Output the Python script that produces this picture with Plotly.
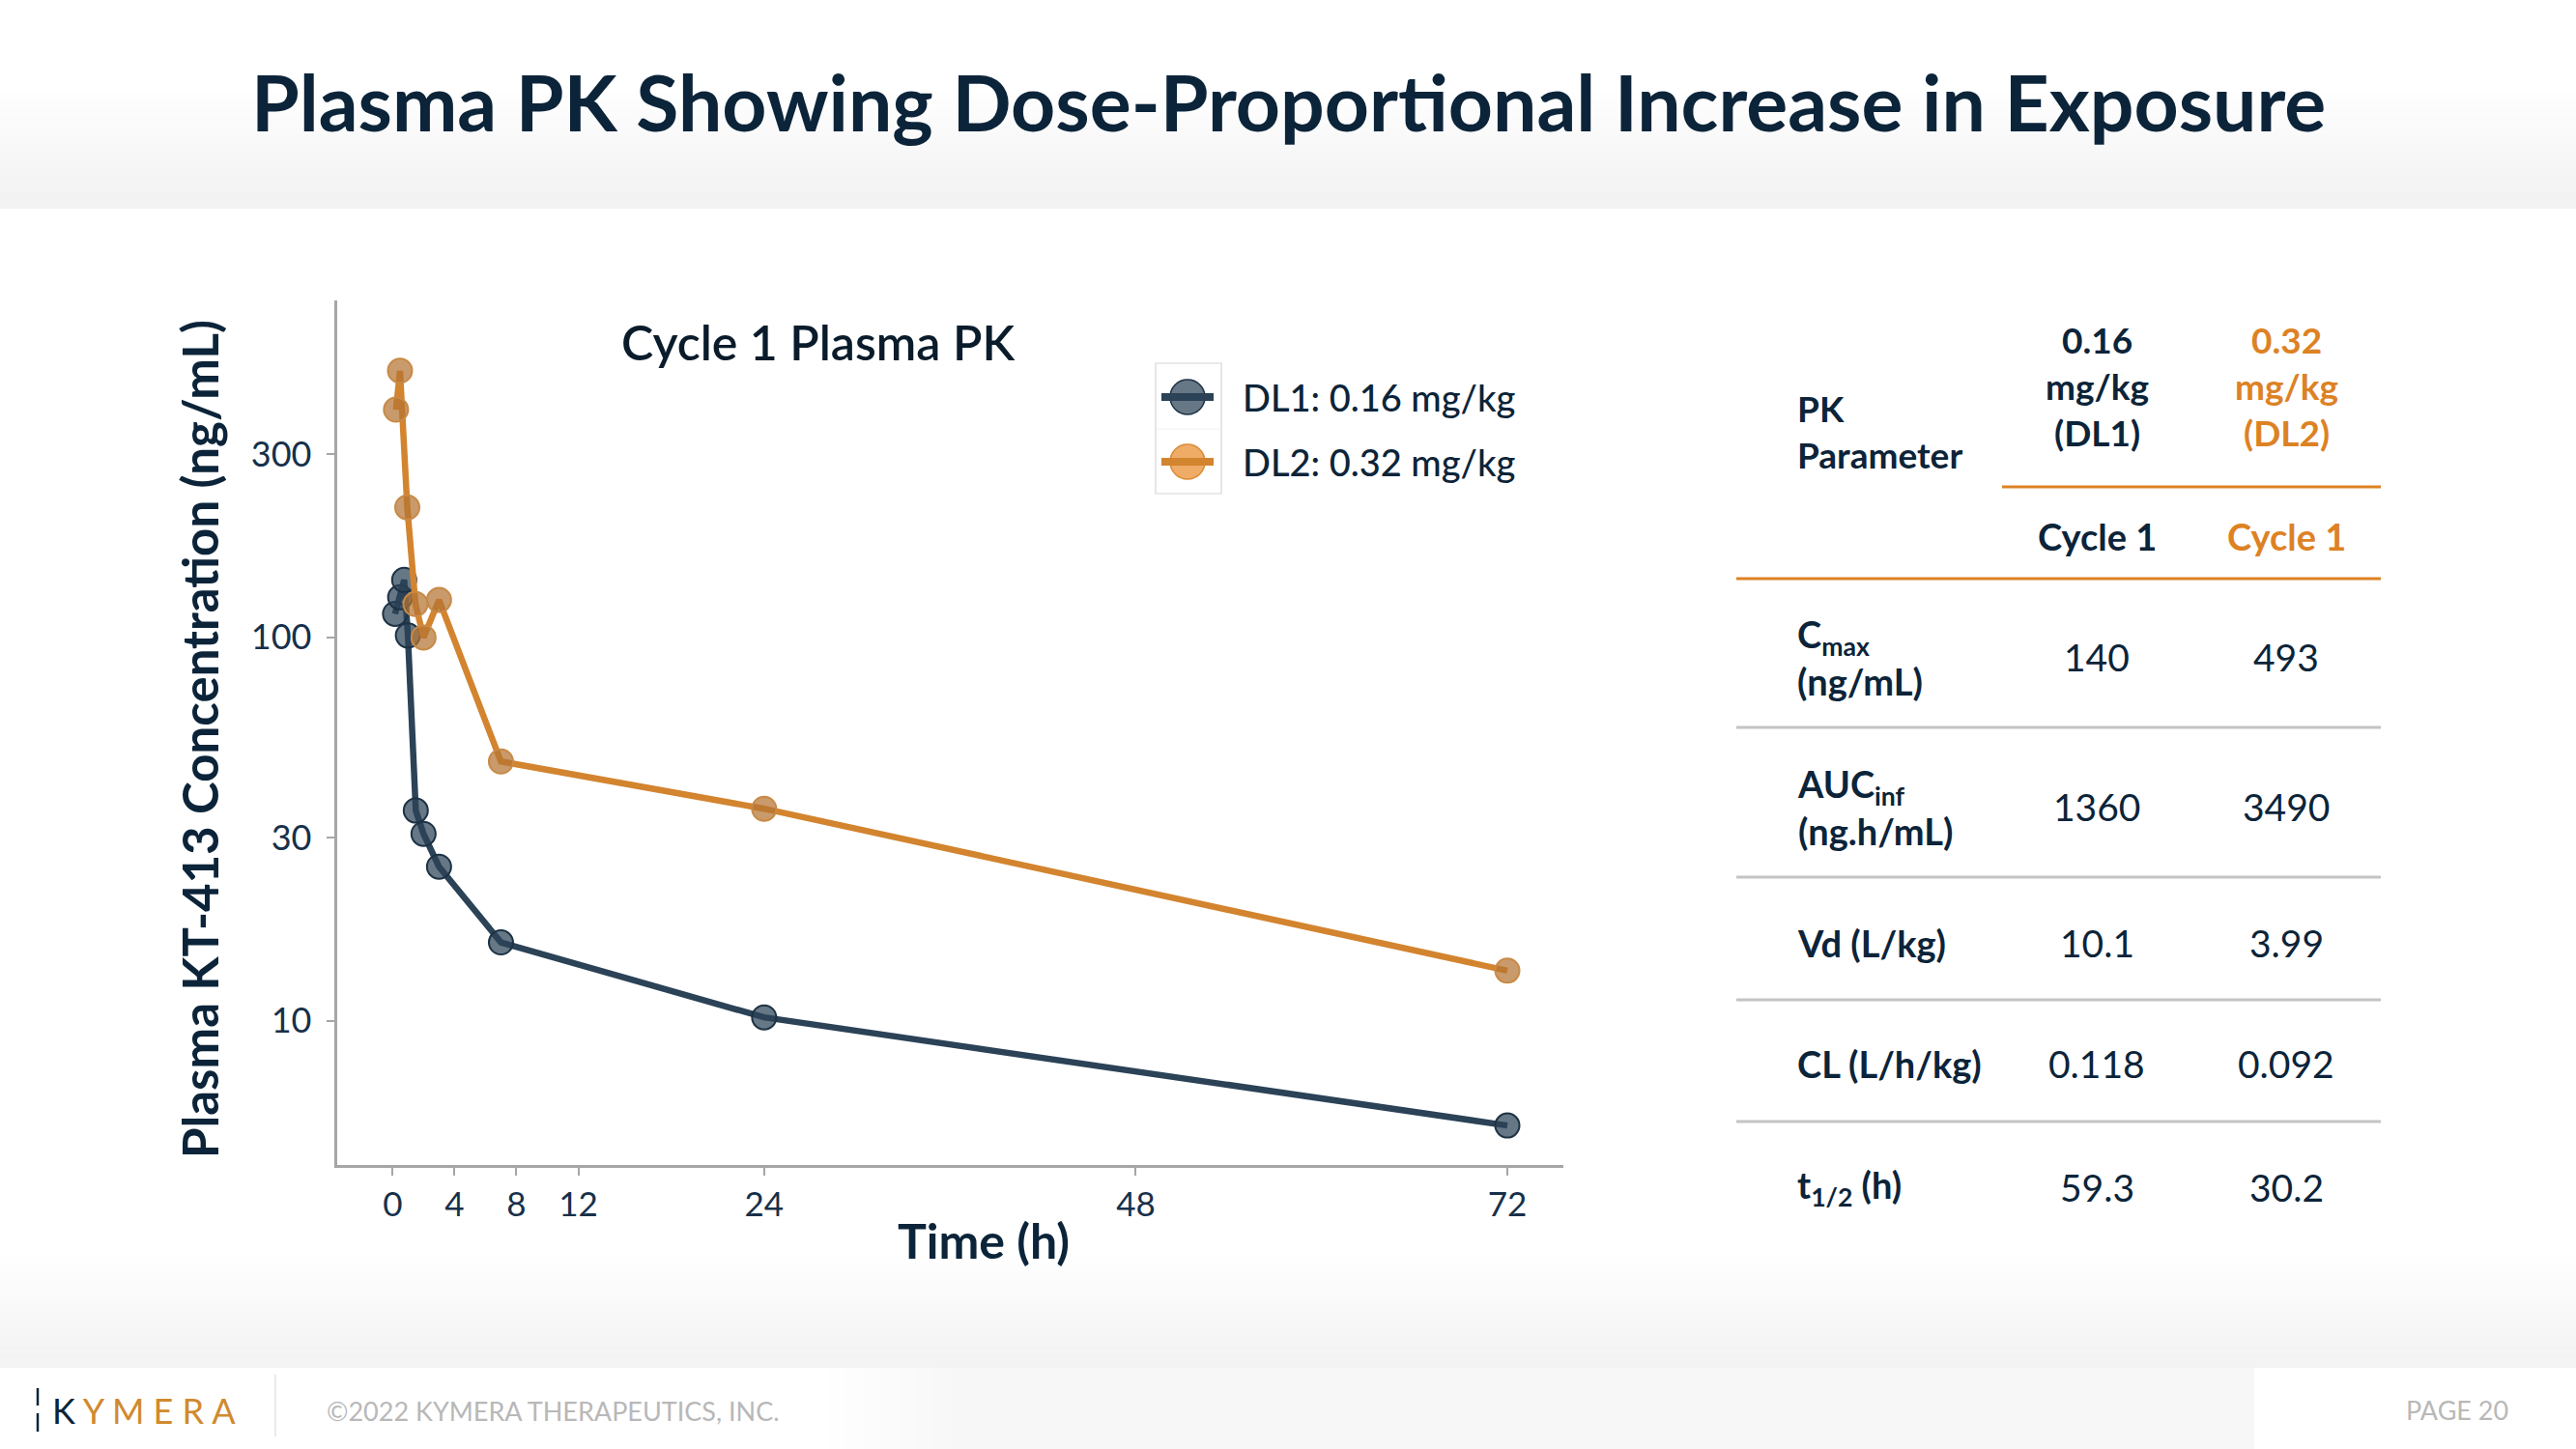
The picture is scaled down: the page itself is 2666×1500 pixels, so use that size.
import plotly.graph_objects as go

# ---------------- data ----------------
time_dl1 = [0.16, 0.49, 0.75, 0.99, 1.5, 2.0, 3.0, 7.0, 24, 72]
conc_dl1 = [115, 127, 141, 101, 35.3, 30.7, 25.2, 16.0, 10.2, 5.33]
time_dl2 = [0.22, 0.48, 0.95, 1.48, 2.0, 3.0, 7.0, 24, 72]
conc_dl2 = [392, 495, 218, 122, 99.8, 125, 47.4, 35.7, 13.5]
series_names = ["DL1: 0.16 mg/kg", "DL2: 0.32 mg/kg"]

x_ticks = [0, 4, 8, 12, 24, 48, 72]
y_ticks = [10, 30, 100, 300]

table_head_dl1 = "0.16<br>mg/kg<br>(DL1)"
table_head_dl2 = "0.32<br>mg/kg<br>(DL2)"
table_cycle = ["Cycle 1", "Cycle 1"]
pk_params = ["C<sub>max</sub><br>(ng/mL)", "AUC<sub>inf</sub><br>(ng.h/mL)", "Vd (L/kg)",
             "CL (L/h/kg)", "t<sub>1/2</sub> (h)"]
dl1_vals = ["140", "1360", "10.1", "0.118", "59.3"]
dl2_vals = ["493", "3490", "3.99", "0.092", "30.2"]

# ---------------- style ----------------
W, H = 2666, 1500
NAVY = "#0c2439"
NAVY_LINE = "#2b4257"
ORANGE = "#d3842f"
ORANGE_TXT = "#dd8224"
AXIS_GRAY = "#a6a6a6"
FONT = "Lato"


def px(x):
    return x / W


def py(y):
    return 1 - y / H


shapes = []
annotations = []

# header gradient band
steps = 14
for i in range(steps):
    y0 = 95 + i * (216 - 95) / steps
    y1 = 95 + (i + 1) * (216 - 95) / steps
    c = int(255 - (255 - 242) * (i + 1) / steps)
    shapes.append(dict(type="rect", xref="paper", yref="paper", x0=0, x1=1,
                       y0=py(y1), y1=py(y0), fillcolor=f"rgb({c},{c},{c})",
                       line=dict(width=0), layer="below"))
# footer gradient band
for i in range(steps):
    y0 = 1300 + i * (1416 - 1300) / steps
    y1 = 1300 + (i + 1) * (1416 - 1300) / steps
    c = int(255 - (255 - 243) * (i + 1) / steps)
    shapes.append(dict(type="rect", xref="paper", yref="paper", x0=0, x1=1,
                       y0=py(y1), y1=py(y0), fillcolor=f"rgb({c},{c},{c})",
                       line=dict(width=0), layer="below"))
# footer light panel
for i in range(8):
    x0 = 858 + i * 18
    c = int(255 - (255 - 247) * (i + 1) / 8)
    shapes.append(dict(type="rect", xref="paper", yref="paper", x0=px(x0), x1=px(2333),
                       y0=0, y1=py(1416), fillcolor=f"rgb({c},{c},{c})",
                       line=dict(width=0), layer="below"))
# footer separator
shapes.append(dict(type="line", xref="paper", yref="paper", x0=px(285), x1=px(285),
                   y0=py(1423), y1=py(1487), line=dict(color="#e3e3e3", width=1.5)))
# logo mark
shapes.append(dict(type="line", xref="paper", yref="paper", x0=px(39), x1=px(39),
                   y0=py(1437), y1=py(1455), line=dict(color=NAVY, width=2.5)))
shapes.append(dict(type="line", xref="paper", yref="paper", x0=px(39), x1=px(39),
                   y0=py(1463), y1=py(1482), line=dict(color=NAVY, width=2.5)))

# table rules
shapes.append(dict(type="line", xref="paper", yref="paper", x0=px(2072), x1=px(2464),
                   y0=py(504), y1=py(504), line=dict(color=ORANGE_TXT, width=3)))
shapes.append(dict(type="line", xref="paper", yref="paper", x0=px(1797), x1=px(2464),
                   y0=py(599), y1=py(599), line=dict(color=ORANGE_TXT, width=3)))
for yy in [753, 908, 1035, 1161]:
    shapes.append(dict(type="line", xref="paper", yref="paper", x0=px(1797), x1=px(2464),
                       y0=py(yy), y1=py(yy), line=dict(color="#c4c4c4", width=3)))

# legend box and glyphs
shapes.append(dict(type="rect", xref="paper", yref="paper", x0=px(1196), x1=px(1264),
                   y0=py(511), y1=py(376), line=dict(color="#d6d6d6", width=1.2),
                   fillcolor="rgba(0,0,0,0)"))
shapes.append(dict(type="line", xref="paper", yref="paper", x0=px(1197), x1=px(1263),
                   y0=py(444), y1=py(444), line=dict(color="#f0f0f0", width=1)))
leg_y = [411, 478]
leg_fill = ["rgba(43,66,87,0.72)", "rgba(232,140,45,0.72)"]
leg_edge = ["#1d3244", "#dd8a36"]
leg_line = [NAVY_LINE, ORANGE]
for yy, f, e, l in zip(leg_y, leg_fill, leg_edge, leg_line):
    shapes.append(dict(type="circle", xref="paper", yref="paper", x0=px(1211), x1=px(1247),
                       y0=py(yy + 18), y1=py(yy - 18), fillcolor=f, line=dict(color=e, width=1.5)))
    shapes.append(dict(type="line", xref="paper", yref="paper", x0=px(1202), x1=px(1256),
                       y0=py(yy), y1=py(yy), line=dict(color=l, width=8)))
for yy, name in zip(leg_y, series_names):
    annotations.append(dict(text=name, x=px(1284), y=py(yy), xref="paper", yref="paper",
                            xanchor="left", yanchor="middle", showarrow=False,
                            font=dict(family=FONT, size=38, color=NAVY, weight=500)))

# title
annotations.append(dict(text="Plasma PK Showing Dose-Proportional Increase in Exposure",
                        x=px(1333), y=py(105), xref="paper", yref="paper",
                        xanchor="center", yanchor="middle", showarrow=False,
                        font=dict(family=FONT, size=80.5, color=NAVY, weight="bold")))
# chart title
annotations.append(dict(text="Cycle 1 Plasma PK", x=px(847), y=py(354), xref="paper", yref="paper",
                        xanchor="center", yanchor="middle", showarrow=False,
                        font=dict(family=FONT, size=50, color="#0a1c2b", weight=600)))
# axis titles
annotations.append(dict(text="Plasma KT-413 Concentration (ng/mL)", x=px(206), y=py(765),
                        xref="paper", yref="paper", xanchor="center", yanchor="middle",
                        textangle=-90, showarrow=False,
                        font=dict(family=FONT, size=51, color=NAVY, weight="bold")))
annotations.append(dict(text="Time (h)", x=px(1018), y=py(1284), xref="paper", yref="paper",
                        xanchor="center", yanchor="middle", showarrow=False,
                        font=dict(family=FONT, size=50, color=NAVY, weight="bold")))

# table text
annotations.append(dict(text="PK<br>Parameter", x=px(1858), y=py(446), xref="paper", yref="paper",
                        xanchor="left", yanchor="middle", align="left", showarrow=False,
                        font=dict(family=FONT, size=37, color=NAVY, weight="bold")))
col_x = [2170, 2366]
col_col = [NAVY, ORANGE_TXT]
for cx, txt, cc in zip(col_x, [table_head_dl1, table_head_dl2], col_col):
    annotations.append(dict(text=txt, x=px(cx), y=py(400), xref="paper", yref="paper",
                            xanchor="center", yanchor="middle", align="center", showarrow=False,
                            font=dict(family=FONT, size=37, color=cc, weight="bold")))
for cx, txt, cc in zip(col_x, table_cycle, col_col):
    annotations.append(dict(text=txt, x=px(cx), y=py(555), xref="paper", yref="paper",
                            xanchor="center", yanchor="middle", showarrow=False,
                            font=dict(family=FONT, size=38, color=cc, weight="bold")))
row_y = [680, 835, 976, 1101, 1229]
for ry, lab, v1, v2 in zip(row_y, pk_params, dl1_vals, dl2_vals):
    annotations.append(dict(text=lab, x=px(1858), y=py(ry), xref="paper", yref="paper",
                            xanchor="left", yanchor="middle", align="left", showarrow=False,
                            font=dict(family=FONT, size=38, color=NAVY, weight="bold")))
    for cx, v in zip(col_x, [v1, v2]):
        annotations.append(dict(text=v, x=px(cx), y=py(ry), xref="paper", yref="paper",
                                xanchor="center", yanchor="middle", showarrow=False,
                                font=dict(family=FONT, size=39, color=NAVY)))

# footer text
annotations.append(dict(text="<span style='color:#0c2439'>K</span>\u00a0Y\u00a0M\u00a0E\u00a0R\u00a0A",
                        x=px(52), y=py(1460), xref="paper", yref="paper",
                        xanchor="left", yanchor="middle", showarrow=False,
                        font=dict(family=FONT, size=36, color="#d08a2e")))
annotations.append(dict(text="©2022 KYMERA THERAPEUTICS, INC.", x=px(336), y=py(1460),
                        xref="paper", yref="paper", xanchor="left", yanchor="middle",
                        showarrow=False, font=dict(family=FONT, size=27, color="#b8b8b8")))
annotations.append(dict(text="PAGE 20", x=px(2598), y=py(1459), xref="paper", yref="paper",
                        xanchor="right", yanchor="middle", showarrow=False,
                        font=dict(family=FONT, size=27, color="#b8b8b8")))

fig = go.Figure()
fig.add_trace(go.Scatter(
    x=time_dl1, y=conc_dl1, mode="lines+markers", name=series_names[0],
    line=dict(color=NAVY_LINE, width=6.5),
    marker=dict(size=25, color="rgba(43,66,87,0.72)", line=dict(color="#1d3244", width=2)),
    showlegend=False, cliponaxis=False))
fig.add_trace(go.Scatter(
    x=time_dl2, y=conc_dl2, mode="lines+markers", name=series_names[1],
    line=dict(color=ORANGE, width=6.5),
    marker=dict(size=25, color="rgba(180,115,50,0.72)", line=dict(color="#c88a45", width=2)),
    showlegend=False, cliponaxis=False))

fig.update_layout(
    width=W, height=H, margin=dict(l=0, r=0, t=0, b=0),
    paper_bgcolor="white", plot_bgcolor="white",
    showlegend=False,
    shapes=shapes, annotations=annotations,
    xaxis=dict(domain=[px(348.6), px(1617.7)], range=[-3.6, 75.6],
               tickvals=x_ticks, ticktext=[str(t) for t in x_ticks],
               ticks="outside", ticklen=8, tickwidth=2, tickcolor=AXIS_GRAY,
               showline=True, linecolor=AXIS_GRAY, linewidth=3,
               showgrid=False, zeroline=False,
               tickfont=dict(family=FONT, size=35, color="#17304a")),
    yaxis=dict(domain=[py(1206), py(311)], type="log", range=[0.6237, 2.878],
               tickvals=y_ticks, ticktext=[str(t) for t in y_ticks],
               ticks="outside", ticklen=8, tickwidth=2, tickcolor=AXIS_GRAY,
               ticklabelstandoff=8,
               showline=True, linecolor=AXIS_GRAY, linewidth=3,
               showgrid=False, zeroline=False,
               tickfont=dict(family=FONT, size=36, color="#17304a")),
)

fig.write_html("out.html")
